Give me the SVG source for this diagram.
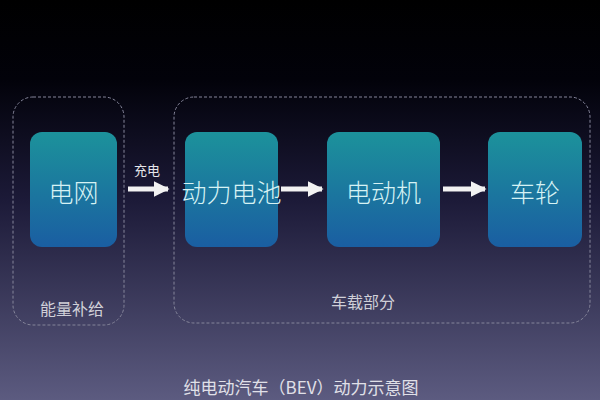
<svg xmlns="http://www.w3.org/2000/svg" width="600" height="400" viewBox="0 0 600 400">
  <defs>
    <linearGradient id="bg" x1="0" y1="0" x2="0" y2="1">
      <stop offset="0" stop-color="#000000"/>
      <stop offset="0.2" stop-color="#02020a"/>
      <stop offset="0.5" stop-color="#1c1a38"/>
      <stop offset="1" stop-color="#5c5b80"/>
    </linearGradient>
    <linearGradient id="node" x1="0" y1="0" x2="0" y2="1">
      <stop offset="0" stop-color="#1c929b"/>
      <stop offset="1" stop-color="#1a5ea2"/>
    </linearGradient>
    <marker id="arr" viewBox="0 0 10 10" refX="9" refY="5" markerWidth="3.2" markerHeight="3.2" orient="auto" markerUnits="strokeWidth">
      <path d="M0,0 L10,5 L0,10 z" fill="#f2f2f2"/>
    </marker>
  </defs>
  <style>
    .grp { fill: none; stroke: #85859a; stroke-width: 1; stroke-dasharray: 3 2; }
    .box { fill: url(#node); }
    .nt { font-family: "Noto Sans CJK SC", "Noto Sans", sans-serif; font-size: 25px; fill: #d6f2f4; text-anchor: middle; dominant-baseline: central; font-weight: 300; }
    .lbl { font-family: "Noto Sans CJK SC", "Noto Sans", sans-serif; font-size: 16px; fill: #d0d0d8; text-anchor: middle; dominant-baseline: central; }
    .small { font-family: "Noto Sans CJK SC", "Noto Sans", sans-serif; font-size: 13px; fill: #e6e6ea; text-anchor: middle; dominant-baseline: central; }
    .title { font-family: "Noto Sans CJK SC", "Noto Sans", sans-serif; font-size: 17px; fill: #e0e0e8; text-anchor: middle; dominant-baseline: central; }
    .conn { stroke: #f2f2f2; stroke-width: 5; fill: none; }
  </style>
  <rect x="0" y="0" width="600" height="400" fill="url(#bg)"/>

  <g id="group-supply">
    <rect class="grp" x="13" y="97" width="111" height="228" rx="20"/>
    <text class="lbl" x="72" y="308">能量补给</text>
  </g>
  <g id="group-vehicle">
    <rect class="grp" x="174" y="97" width="416" height="226" rx="20"/>
    <text class="lbl" x="363" y="301">车载部分</text>
  </g>

  <g id="node-grid">
    <rect class="box" x="30" y="132" width="87" height="115" rx="12"/>
    <text class="nt" x="73.5" y="191">电网</text>
  </g>
  <g id="node-battery">
    <rect class="box" x="185" y="132" width="93" height="115" rx="12"/>
    <text class="nt" x="231.5" y="191">动力电池</text>
  </g>
  <g id="node-motor">
    <rect class="box" x="327" y="132" width="113" height="115" rx="12"/>
    <text class="nt" x="383.5" y="191">电动机</text>
  </g>
  <g id="node-wheel">
    <rect class="box" x="488" y="132" width="94" height="115" rx="12"/>
    <text class="nt" x="535" y="191">车轮</text>
  </g>

  <g id="connectors">
    <line class="conn" x1="128" y1="189" x2="168" y2="189" marker-end="url(#arr)"/>
    <text class="small" x="147" y="169">充电</text>
    <line class="conn" x1="281" y1="189" x2="322" y2="189" marker-end="url(#arr)"/>
    <line class="conn" x1="443" y1="189" x2="485" y2="189" marker-end="url(#arr)"/>
  </g>

  <text class="title" x="301" y="386">纯电动汽车（BEV）动力示意图</text>
</svg>
